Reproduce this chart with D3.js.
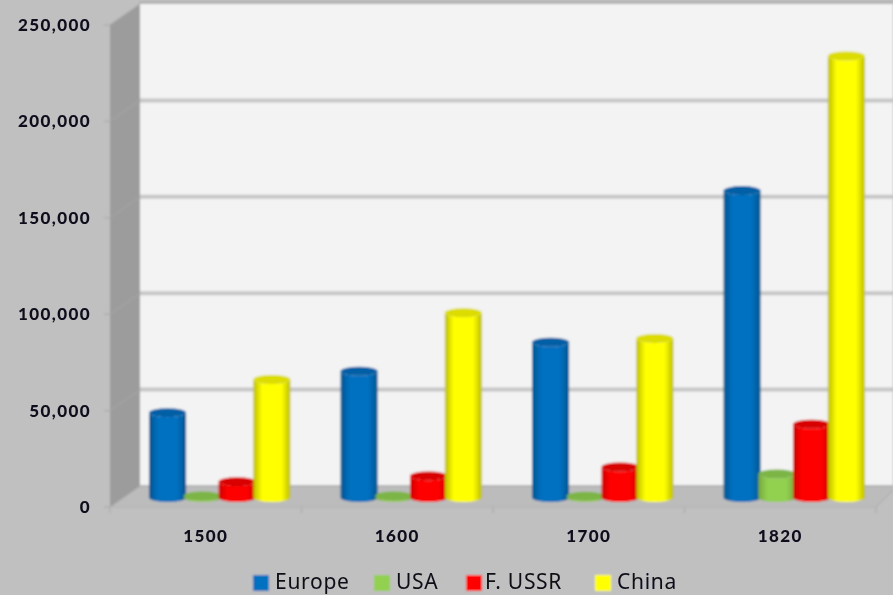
<!DOCTYPE html>
<html><head><meta charset="utf-8">
<script src="https://cdn.jsdelivr.net/npm/d3@7/dist/d3.min.js"></script>
<style>
html,body{margin:0;padding:0;background:#c0c0c0;overflow:hidden}
svg{display:block}
.ax{font-family:Lato,"Open Sans",sans-serif;font-weight:900;font-size:17px;fill:#0c0c1c;letter-spacing:1.4px}
.lg{font-family:"Noto Sans","Open Sans",sans-serif;font-size:21px;fill:#0c0c16;letter-spacing:.7px}
</style></head><body>
<svg id="c" width="893" height="595"></svg>
<script>
const categories=["1500","1600","1700","1820"];
const seriesNames=["Europe","USA","F. USSR","China"];
const europe=[44000,65500,80500,159200];
const usa=[800,800,700,12200];
const ussr=[8200,11200,15800,38000];
const china=[61200,95800,82500,229000];
const yTicks=[0,50000,100000,150000,200000,250000];
const baseColors=["#0070c0","#92d050","#ff0000","#ffff00"];
const edgeColors=["#00558f","#76a83e","#cc0000","#bcbc00"];
const topColors=["#005fa5","#7cb544","#d80000","#dcdc00"];
const W=893,H=595,dx=30,dy=-21;
const all=[europe,usa,ussr,china];
const svg=d3.select("#c");
const defs=svg.append("defs");
const mk=(id,s)=>defs.append("filter").attr("id",id).attr("x","-5%").attr("y","-5%").attr("width","110%").attr("height","110%")
  .append("feGaussianBlur").attr("stdDeviation",s);
mk("soft",0.9);mk("softText",0.45);
baseColors.forEach((c,i)=>{
  const g=defs.append("linearGradient").attr("id","g"+i);
  g.append("stop").attr("offset","0%").attr("stop-color",edgeColors[i]);
  g.append("stop").attr("offset","24%").attr("stop-color",c);
  g.append("stop").attr("offset","76%").attr("stop-color",c);
  g.append("stop").attr("offset","100%").attr("stop-color",edgeColors[i]);
});
const root=svg.append("g").attr("filter","url(#soft)");
const txt=svg.append("g").attr("filter","url(#softText)");
root.append("rect").attr("width",W).attr("height",H).attr("fill","#c0c0c0");
const y=d3.scaleLinear().domain([0,250000]).range([507,25]);
const x=d3.scaleBand().domain(categories).range([110,876]);
const inner=d3.scaleBand().domain(d3.range(4)).range([0,139]);
const x0=110,xEnd=876;
root.append("rect").attr("x",x0+dx-1).attr("y",y(250000)+dy).attr("width",W-x0-dx+1).attr("height",y(0)-y(250000)).attr("fill","#f3f3f3");
root.append("rect").attr("x",x0+dx-1).attr("y",y(250000)+dy-3).attr("width",W-x0-dx+1).attr("height",3).attr("fill","#b2b2b2");
root.append("path").attr("fill","#9c9c9c").attr("d",d3.line()([[x0,y(0)],[x0+dx,y(0)+dy],[x0+dx,y(250000)+dy],[x0,y(250000)]]));
root.append("path").attr("fill","#bcbcbc").attr("d",d3.line()([[x0,y(0)],[x0+dx,y(0)+dy],[W,y(0)+dy],[W,y(0)+dy+4],[xEnd,y(0)],]));
root.append("line").attr("x1",x0+dx).attr("x2",W).attr("y1",y(0)+dy).attr("y2",y(0)+dy).attr("stroke","#a8a8a8").attr("stroke-width",1.5);
yTicks.slice(1,-1).forEach(t=>{
  root.append("line").attr("x1",x0+dx).attr("x2",W).attr("y1",y(t)+dy).attr("y2",y(t)+dy).attr("stroke","#c6c6c6").attr("stroke-width",4);
});
yTicks.forEach(t=>{
  root.append("path").attr("fill","none").attr("stroke","#a6a6a6").attr("stroke-width",1)
   .attr("d",d3.line()([[x0-6,y(t)],[x0,y(t)],[x0+dx,y(t)+dy]]));
  txt.append("text").attr("class","ax").attr("x",91).attr("y",y(t)+6).attr("text-anchor","end").text(d3.format(",")(t));
});
root.append("line").attr("x1",x0).attr("x2",xEnd).attr("y1",y(0)).attr("y2",y(0)).attr("stroke","#b2b2b2");
d3.range(5).forEach(i=>{
  const px=x0+i*x.step();
  root.append("line").attr("x1",px).attr("x2",px).attr("y1",y(0)).attr("y2",y(0)+6).attr("stroke","#a6a6a6");
});
root.append("line").attr("x1",xEnd).attr("x2",W).attr("y1",y(0)).attr("y2",y(0)-17).attr("stroke","#a6a6a6");
categories.forEach(c=>{
  txt.append("text").attr("class","ax").attr("x",x(c)+x.bandwidth()/2).attr("y",542).attr("text-anchor","middle").text(c);
});
const rx=18.5,ry=4.5,offX=41,offY=-9.5;
categories.forEach((c,ci)=>{
  all.forEach((s,si)=>{
    const cx=x(c)+offX+inner(si)+inner.bandwidth()/2-0.8;
    const b=y(0)+offY, t=y(s[ci])+offY;
    const p=`M${cx-rx},${t}L${cx-rx},${b}A${rx},${ry} 0 0 0 ${cx+rx},${b}L${cx+rx},${t}A${rx},${ry} 0 0 1 ${cx-rx},${t}Z`;
    root.append("path").attr("d",p).attr("fill",`url(#g${si})`);
    root.append("ellipse").attr("cx",cx).attr("cy",t).attr("rx",rx).attr("ry",ry).attr("fill",topColors[si]);
  });
});
const lgSquares=[253,374,466,595],lgText=[275,396,485,617];
seriesNames.forEach((n,i)=>{
  root.append("rect").attr("x",lgSquares[i]).attr("y",575).attr("width",16).attr("height",16).attr("fill",baseColors[i]);
  txt.append("text").attr("class","lg").attr("x",lgText[i]).attr("y",589).text(n);
});
</script></body></html>
